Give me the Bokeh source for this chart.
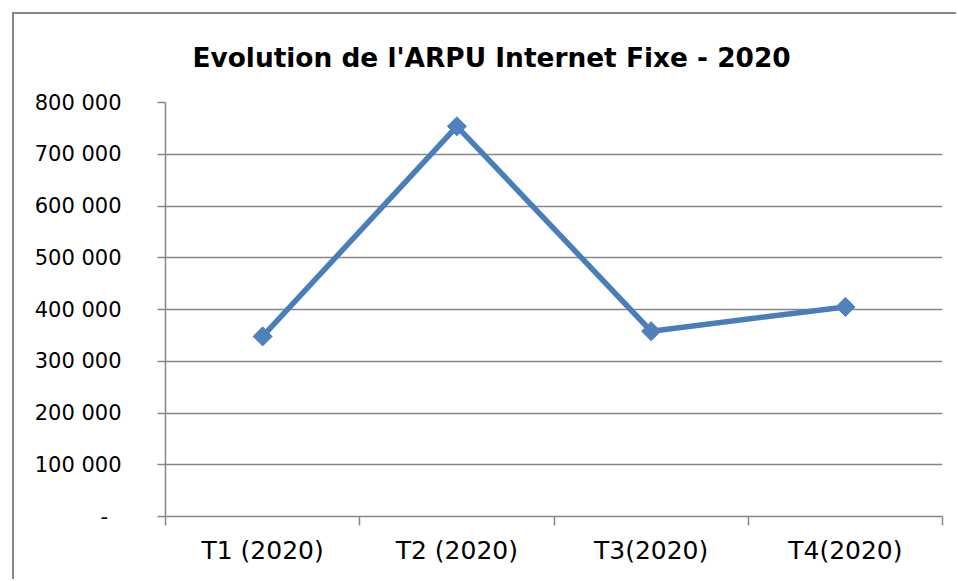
from bokeh.plotting import figure
from bokeh.models import Range1d, FixedTicker, ColumnDataSource, Column
from bokeh.embed import file_html
from bokeh.resources import INLINE
import math

# ---- data ----
categories = ["T1 (2020)", "T2 (2020)", "T3(2020)", "T4(2020)"]
arpu = [348000, 754000, 358000, 405000]
y_ticks = [0, 100000, 200000, 300000, 400000, 500000, 600000, 700000, 800000]
y_tick_labels = ["-\u00a0\u00a0", "100 000", "200 000", "300 000", "400 000",
                 "500 000", "600 000", "700 000", "800 000"]
title_text = "Evolution de l'ARPU Internet Fixe - 2020"

GRAY = "#868686"
LINE = "#4A7EBB"
MARK = "#4F81BD"

xpos = [i + 0.5 for i in range(len(categories))]
src = ColumnDataSource(dict(x=xpos, y=arpu, cat=categories))

p = figure(width=942, height=565, output_backend="svg", toolbar_location=None,
           x_range=Range1d(0, len(categories)), y_range=Range1d(0, 800000),
           min_border_left=151, min_border_right=14, min_border_top=87, min_border_bottom=63,
           title=title_text)
p.outline_line_color = None
p.background_fill_color = "white"
p.border_fill_color = "white"

p.title.align = "left"
p.title.vertical_align = "top"
p.title.offset = 27
p.title.standoff = 55
p.title.text_font = "DejaVu Sans"
p.title.text_font_style = "bold"
p.title.text_font_size = "26.4px"
p.title.text_color = "black"

# x axis
xa = p.xaxis[0]
xa.ticker = FixedTicker(ticks=xpos, minor_ticks=list(range(len(categories) + 1)))
xa.major_label_overrides = {x: c for x, c in zip(xpos, categories)}
xa.major_tick_out = 0
xa.major_tick_in = 0
xa.minor_tick_out = 9
xa.minor_tick_in = 0
xa.minor_tick_line_color = GRAY
xa.minor_tick_line_width = 1.5
xa.axis_line_color = GRAY
xa.axis_line_width = 1.5
xa.major_label_text_font = "DejaVu Sans"
xa.major_label_text_font_size = "25px"
xa.major_label_text_color = "black"
xa.major_label_standoff = 10

# y axis
ya = p.yaxis[0]
ya.ticker = FixedTicker(ticks=y_ticks)
ya.major_label_overrides = {t: l for t, l in zip(y_ticks, y_tick_labels)}
ya.major_tick_out = 8
ya.major_tick_in = 0
ya.minor_tick_out = 0
ya.minor_tick_in = 0
ya.major_tick_line_color = GRAY
ya.major_tick_line_width = 1.5
ya.axis_line_color = GRAY
ya.axis_line_width = 1.5
ya.major_label_text_font = "DejaVu Sans"
ya.major_label_text_font_size = "21px"
ya.major_label_text_color = "black"
ya.major_label_standoff = 36

p.xgrid.visible = False
p.ygrid.ticker = FixedTicker(ticks=y_ticks)
p.ygrid.grid_line_color = GRAY
p.ygrid.grid_line_width = 1.5

p.line("x", "y", source=src, line_color=LINE, line_width=5.5)
p.scatter("x", "y", source=src, marker="square", size=13.5, angle=math.pi / 4,
          fill_color=MARK, line_color=MARK)

layout = Column(children=[p], styles={
    "margin-left": "12px", "margin-top": "12px",
    "border-left": "2px solid #868686", "border-top": "2px solid #868686",
})

open("out.html", "w").write(file_html(layout, INLINE))
